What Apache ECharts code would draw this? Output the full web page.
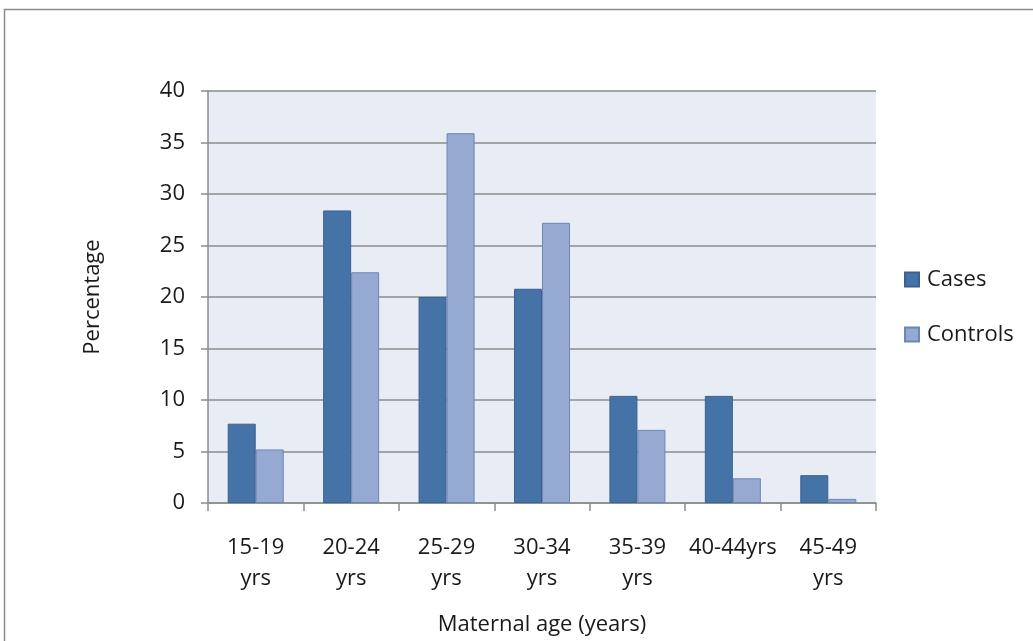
<!DOCTYPE html>
<html>
<head>
<meta charset="utf-8">
<script src="https://cdn.jsdelivr.net/npm/echarts@6/dist/echarts.min.js"></script>
<style>html,body{margin:0;padding:0;background:#fff;}#c{width:1033px;height:641px;}</style>
</head>
<body>
<div id="c"></div>
<script>
const categories = ['15-19 yrs', '20-24 yrs', '25-29 yrs', '30-34 yrs', '35-39 yrs', '40-44yrs', '45-49 yrs'];
const cases = [7.7, 28.4, 20.0, 20.8, 10.4, 10.4, 2.7];
const controls = [5.2, 22.4, 35.9, 27.2, 7.1, 2.4, 0.4];
const yTicks = [0, 5, 10, 15, 20, 25, 30, 35, 40];

const FONT = 'Open Sans';
const FS = 22;
const TXT = '#1a1a1a';
const chart = echarts.init(document.getElementById('c'));
chart.setOption({
  animation: false,
  backgroundColor: '#ffffff',
  textStyle: { fontFamily: FONT },
  graphic: [{
    type: 'rect', silent: true,
    shape: { x: 4.5, y: 9.5, width: 1100, height: 700 },
    style: { fill: 'none', stroke: '#8a8a8a', lineWidth: 1.5 }
  }],
  grid: {
    left: 208, top: 91, right: 157, bottom: 138,
    containLabel: false, outerBoundsMode: 'none',
    show: true, backgroundColor: '#E8ECF4', borderWidth: 0
  },
  legend: {
    orient: 'vertical', left: 899, top: 260,
    itemWidth: 14, itemHeight: 14, itemGap: 26,
    icon: 'rect',
    textStyle: { fontFamily: FONT, fontSize: FS, color: TXT, padding: [0, 0, 0, 3], lineHeight: 29 },
    data: ['Cases', 'Controls']
  },
  xAxis: {
    type: 'category',
    data: categories,
    name: 'Maternal age (years)',
    nameLocation: 'middle',
    nameGap: 111,
    nameTextStyle: { fontFamily: FONT, fontSize: FS, color: TXT },
    axisLine: { lineStyle: { color: '#8c8c8c', width: 1.5 } },
    axisTick: { show: true, length: 8, interval: 0, lineStyle: { color: '#8c8c8c', width: 1.5 } },
    axisLabel: {
      interval: 0, margin: 29, fontFamily: FONT, fontSize: FS, color: TXT, lineHeight: 31,
      formatter: v => v.replace(' ', '\n')
    }
  },
  yAxis: {
    type: 'value',
    min: yTicks[0], max: yTicks[yTicks.length - 1], interval: 5,
    name: 'Percentage',
    nameLocation: 'middle',
    nameGap: 104,
    nameRotate: 90,
    nameTextStyle: { fontFamily: FONT, fontSize: FS, color: TXT },
    axisLine: { show: true, lineStyle: { color: '#8c8c8c', width: 1.5 } },
    axisTick: { show: true, inside: false, length: 7, lineStyle: { color: '#8c8c8c', width: 1.5 } },
    axisLabel: { margin: 23, fontFamily: FONT, fontSize: FS, color: TXT },
    splitLine: { show: true, lineStyle: { color: '#8c8c8c', width: 1.5 } }
  },
  series: [
    {
      name: 'Cases', type: 'bar', data: cases,
      barWidth: 28, barGap: '0%',
      itemStyle: { color: '#4572A7', borderColor: '#3A6190', borderWidth: 1 }
    },
    {
      name: 'Controls', type: 'bar', data: controls,
      barWidth: 28, barGap: '0%',
      itemStyle: { color: '#95A9D1', borderColor: '#6B86B8', borderWidth: 1 }
    }
  ]
});
</script>
</body>
</html>
